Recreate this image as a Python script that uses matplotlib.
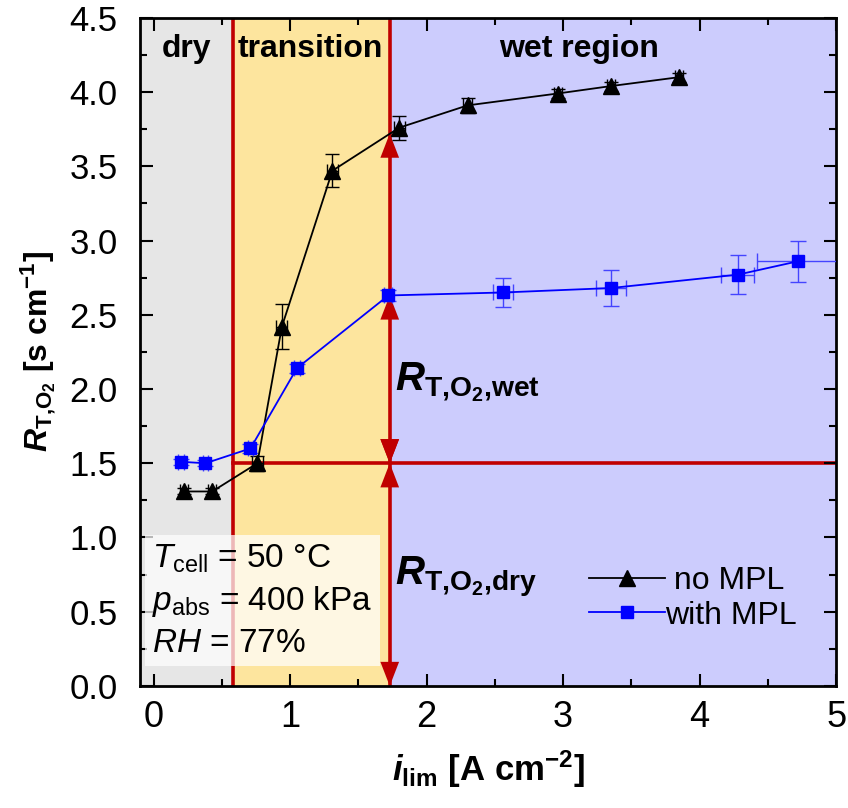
import matplotlib.pyplot as plt
import numpy as np
from matplotlib.lines import Line2D
from matplotlib.patches import ArrowStyle
from matplotlib.ticker import MultipleLocator

plt.rcParams['font.family'] = ['Liberation Sans', 'DejaVu Sans']
plt.rcParams['mathtext.fontset'] = 'custom'
plt.rcParams['mathtext.rm'] = 'Liberation Sans'
plt.rcParams['mathtext.it'] = 'Liberation Sans:italic'
plt.rcParams['mathtext.bf'] = 'Liberation Sans:bold'
plt.rcParams['mathtext.bfit'] = 'Liberation Sans:bold:italic'

# no MPL (triangles)
i_no = np.array([0.22, 0.43, 0.76, 0.94, 1.31, 1.80, 2.30, 2.96, 3.35, 3.85])
r_no = np.array([1.31, 1.31, 1.50, 2.42, 3.47, 3.76, 3.91, 3.99, 4.04, 4.10])
r_no_err = np.array([0.02, 0.02, 0.05, 0.15, 0.11, 0.08, 0.05, 0.03, 0.03, 0.03])
i_no_err = np.array([0.03, 0.03, 0.04, 0.04, 0.04, 0.04, 0.03, 0.03, 0.03, 0.03])

# with MPL (squares)
i_mpl = np.array([0.20, 0.38, 0.71, 1.05, 1.72, 2.56, 3.35, 4.28, 4.72])
r_mpl = np.array([1.51, 1.50, 1.60, 2.14, 2.63, 2.65, 2.68, 2.77, 2.86])
r_mpl_err = np.array([0.02, 0.02, 0.03, 0.03, 0.04, 0.10, 0.12, 0.13, 0.14])
i_mpl_err = np.array([0.02, 0.02, 0.02, 0.02, 0.03, 0.07, 0.11, 0.12, 0.30])

# region boundaries and reference resistances
i_dry_end = 0.58
i_wet_start = 1.73
r_dry = 1.50
r_wet_mpl = 2.63
r_wet_no = 3.72

red = '#c00000'

fig = plt.figure(figsize=(8.48, 8.08), dpi=100)
ax = fig.add_axes([0.165, 0.151, 0.821, 0.827])
ax.set_xlim(-0.1, 5)
ax.set_ylim(0, 4.5)

ax.axvspan(-0.1, i_dry_end, color='#e6e6e6', zorder=0)
ax.axvspan(i_dry_end, i_wet_start, color='#fde59e', zorder=0)
ax.axvspan(i_wet_start, 5, color='#ccccfd', zorder=0)

ax.axvline(i_dry_end, color=red, lw=2.6, zorder=1)
ax.axvline(i_wet_start, color=red, lw=2.6, zorder=1)
ax.plot([i_dry_end, 5], [r_dry, r_dry], color=red, lw=2.6, zorder=1)

ax.text(0.06, 4.29, 'dry', fontsize=23, fontweight='bold', va='center', ha='left')
ax.text(1.15, 4.29, 'transition', fontsize=23, fontweight='bold', va='center', ha='center')
ax.text(3.12, 4.29, 'wet region', fontsize=23, fontweight='bold', va='center', ha='center')

ax.errorbar(i_no, r_no, yerr=r_no_err, xerr=i_no_err, fmt='-^', color='black',
            ecolor='black', elinewidth=1.0, capsize=5, capthick=1.0, lw=1.3,
            markersize=12, zorder=3)
ax.errorbar(i_mpl, r_mpl, yerr=r_mpl_err, xerr=i_mpl_err, fmt='-s', color='#0000ff',
            ecolor='#4444ff', elinewidth=1.0, capsize=6, capthick=1.0, lw=1.3,
            markersize=9, zorder=3)

head = ArrowStyle('<|-|>', head_length=0.62, head_width=0.24)
arrow_kw = dict(arrowstyle=head, color=red, lw=0.01, mutation_scale=28,
                shrinkA=0, shrinkB=0)
for y0, y1 in [(0, r_dry), (r_dry, r_wet_mpl), (r_dry, r_wet_no)]:
    ax.annotate('', xy=(i_wet_start, y1), xytext=(i_wet_start, y0),
                arrowprops=arrow_kw, zorder=2)

ax.text(1.77, 2.05, r'$\mathbfit{R}_{\mathbf{T{,}O_2{,}wet}}$', fontsize=29, va='center')
ax.text(1.77, 0.74, r'$\mathbfit{R}_{\mathbf{T{,}O_2{,}dry}}$', fontsize=29, va='center')

ax.text(-0.01, 0.575, '$T_{\\mathrm{cell}}$ = 50 °C\n$p_{\\mathrm{abs}}$ = 400 kPa\n$RH$ = 77%',
        fontsize=24, va='center', ha='left', linespacing=1.35,
        bbox=dict(facecolor='white', alpha=0.72, edgecolor='none', pad=5), zorder=4)

handles = [Line2D([], [], color='black', marker='^', markersize=12, lw=1.3),
           Line2D([], [], color='#0000ff', marker='s', markersize=9, lw=1.3)]
ax.legend(handles, [' no MPL', 'with MPL'], loc='lower right',
          bbox_to_anchor=(0.985, 0.04), frameon=False, fontsize=23,
          handlelength=2.4, handletextpad=0.0, labelspacing=0.15)

ax.xaxis.set_major_locator(MultipleLocator(1))
ax.xaxis.set_minor_locator(MultipleLocator(0.5))
ax.yaxis.set_minor_locator(MultipleLocator(0.25))
ax.set_yticks(np.arange(0, 4.51, 0.5))
ax.set_yticklabels([f'{v:.1f}' for v in np.arange(0, 4.51, 0.5)])
ax.tick_params(which='both', direction='in', top=True, right=True, width=1.5)
ax.tick_params(axis='y', labelsize=25, pad=16)
ax.tick_params(axis='x', labelsize=26, pad=10)
ax.tick_params(which='major', length=9)
ax.tick_params(which='minor', length=5)
for s in ax.spines.values():
    s.set_linewidth(2)

ax.set_xlabel(r'$\mathbfit{i}_{\mathbf{lim}}$ [A cm$^{\mathbf{-2}}$]', fontsize=25,
              fontweight='bold', labelpad=10)
ax.set_ylabel(r'$\mathbfit{R}_{\mathbf{T{,}O_2}}$ [s cm$^{\mathbf{-1}}$]', fontsize=23,
              fontweight='bold', labelpad=8)

fig.savefig('out.png', dpi=100)
